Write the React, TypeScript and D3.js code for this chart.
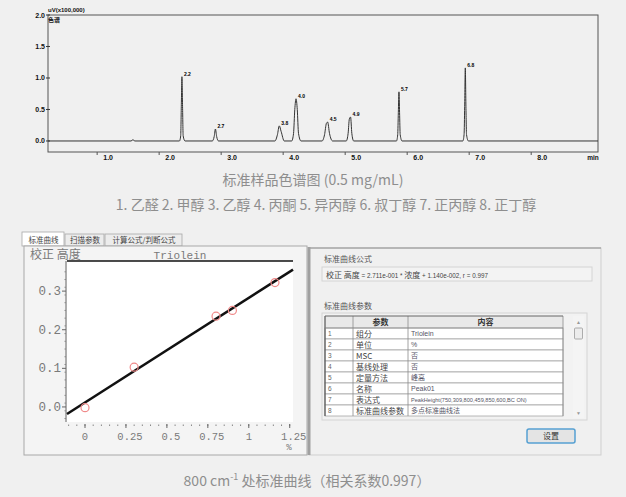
import React from "react";
import * as d3 from "d3";

// ---------- Chromatogram data ----------
const chromXTicks = [1, 2, 3, 4, 5, 6, 7, 8];
const chromYTicks = [0, 0.5, 1.0, 1.5, 2.0];
// trace points [time (min), signal (x100,000 uV)]
const chromTrace: [number, number][] = [
  [0.03, 0], [1.37, 0], [1.40, 0.02], [1.43, 0],
  [2.15, 0], [2.17, 0.08], [2.18, 0.55], [2.19, 1.02], [2.20, 0.55], [2.21, 0.08], [2.24, 0],
  [2.68, 0], [2.71, 0.07], [2.73, 0.19], [2.75, 0.07], [2.78, 0],
  [3.69, 0], [3.73, 0.1], [3.76, 0.24], [3.79, 0.15], [3.84, 0],
  [3.96, 0], [3.99, 0.12], [4.01, 0.5], [4.03, 0.67], [4.05, 0.5], [4.07, 0.12], [4.11, 0],
  [4.45, 0], [4.49, 0.1], [4.52, 0.28], [4.54, 0.30], [4.57, 0.12], [4.62, 0],
  [4.84, 0], [4.87, 0.12], [4.89, 0.35], [4.91, 0.38], [4.93, 0.12], [4.96, 0],
  [5.65, 0], [5.67, 0.1], [5.68, 0.45], [5.69, 0.78], [5.70, 0.45], [5.71, 0.1], [5.74, 0],
  [6.72, 0], [6.74, 0.1], [6.75, 0.55], [6.76, 1.16], [6.77, 0.55], [6.78, 0.1], [6.81, 0],
  [8.9, 0],
];
const peakTimes = [2.19, 2.73, 3.76, 4.03, 4.54, 4.91, 5.69, 6.76];
const peakHeights = [1.02, 0.19, 0.24, 0.67, 0.30, 0.38, 0.78, 1.16];

// ---------- Calibration data ----------
const calXTicks = [0, 0.25, 0.5, 0.75, 1, 1.25];
const calXTickLabels = ["0", "0.25", "0.5", "0.75", "1", "1.25"];
const calYTicks = [0, 0.1, 0.2, 0.3];
const calYTickLabels = ["0.0", "0.1", "0.2", "0.3"];
const calConc = [0, 0.3, 0.8, 0.9, 1.16];
const calHeight = [-0.002, 0.103, 0.235, 0.25, 0.322];
const fitSlope = 0.2711;
const fitIntercept = 0.0114;

// ---------- Table data ----------
const tableParams = ["组分", "单位", "MSC", "基线处理", "定量方法", "名称", "表达式", "标准曲线参数"];
const tableValues = ["Triolein", "%", "否", "否", "峰高", "Peak01", "PeakHeight(750,309,800,459,850,600,BC ON)", "多点标准曲线法"];
const tabLabels = ["标准曲线", "扫描参数", "计算公式/判断公式"];

const CJK = "'Noto Sans CJK SC', 'Noto Sans', sans-serif";
const SANS = "'Liberation Sans', Arial, sans-serif";
const MONO = "'Liberation Mono', 'DejaVu Sans Mono', monospace";

export default function App() {
  // chromatogram scales
  const xC = d3.scaleLinear().domain([0.03, 8.9]).range([48, 598]);
  const yC = d3.scaleLinear().domain([-0.175, 2.0]).range([152, 15]);
  const tracePath = d3
    .line<[number, number]>()
    .x((d) => xC(d[0]))
    .y((d) => yC(d[1]))
    .curve(d3.curveMonotoneX)(chromTrace) as string;

  // calibration scales
  const xK = d3.scaleLinear().domain([-0.11, 1.27]).range([67, 293]);
  const yK = d3.scaleLinear().domain([-0.039, 0.378]).range([422, 261]);
  const fitPath = d3
    .line<number>()
    .x((c) => xK(c))
    .y((c) => yK(fitSlope * c + fitIntercept))(xK.domain()) as string;
  const minorX = d3.range(-0.1, 1.27, 0.05);
  const minorY = d3.range(-0.03, 0.37, 0.02);

  // table geometry
  const colX = [325, 353, 408, 563];
  const headTop = 316;
  const headH = 12;
  const rowH = 11;
  const tabX = [22, 65, 105, 183];

  return (
    <svg
      width={626}
      height={497}
      style={{ position: "absolute", left: 0, top: 0, background: "#f0f0f0" }}
    >
      <rect x={0} y={0} width={626} height={497} fill="#f0f0f0" />

      {/* ================= Chromatogram ================= */}
      <rect x={48} y={15} width={550} height={137} fill="none" stroke="#555" strokeWidth={1} />
      {chromYTicks.map((v) => (
        <g key={"cy" + v}>
          <line x1={46} x2={50} y1={yC(v)} y2={yC(v)} stroke="#333" />
          <text x={45} y={yC(v) + 2.5} fontSize={7} fontWeight="bold" fontFamily={SANS} textAnchor="end" fill="#111">
            {v.toFixed(1)}
          </text>
        </g>
      ))}
      {chromXTicks.map((v) => (
        <g key={"cx" + v}>
          <line x1={xC(v) - 11} x2={xC(v) - 11} y1={152} y2={155} stroke="#555" />
          <text x={xC(v)} y={160} fontSize={7} fontWeight="bold" fontFamily={SANS} textAnchor="middle" fill="#111">
            {v.toFixed(1)}
          </text>
        </g>
      ))}
      <text x={593} y={160} fontSize={6.5} fontWeight="bold" fontFamily={SANS} textAnchor="middle" fill="#111">
        min
      </text>
      <text x={48} y={12} fontSize={6} fontWeight="bold" fontFamily={SANS} fill="#111">
        uV(x100,000)
      </text>
      <text x={48} y={21.5} fontSize={6} fontWeight="bold" fontFamily={CJK} fill="#111">
        色谱
      </text>
      <path d={tracePath} fill="none" stroke="#333" strokeWidth={1} />
      {peakTimes.map((t, i) => (
        <text
          key={"pk" + i}
          x={xC(t) + 2}
          y={yC(peakHeights[i]) - 1}
          fontSize={5}
          fontWeight="bold"
          fontFamily={SANS}
          fill="#000"
        >
          {t.toFixed(1)}
        </text>
      ))}

      {/* captions */}
      <text x={313} y={185} fontSize={14} fontFamily={CJK} textAnchor="middle" fill="#8e8e8e">
        标准样品色谱图 (0.5 mg/mL)
      </text>
      <text x={326} y={210} fontSize={14} fontFamily={CJK} textAnchor="middle" fill="#8e8e8e">
        1. 乙醛 2. 甲醇 3. 乙醇 4. 丙酮 5. 异丙醇 6. 叔丁醇 7. 正丙醇 8. 正丁醇
      </text>

      {/* ================= Software screenshot ================= */}
      {tabLabels.map((lab, i) => (
        <g key={"tab" + i}>
          <rect
            x={tabX[i]}
            y={i === 0 ? 232 : 234}
            width={tabX[i + 1] - tabX[i] - 1}
            height={i === 0 ? 14 : 12}
            fill={i === 0 ? "#ffffff" : "#ececec"}
            stroke="#a8a8a8"
            strokeWidth={0.8}
          />
          <text
            x={(tabX[i] + tabX[i + 1]) / 2}
            y={242.5}
            fontSize={7.5}
            fontFamily={CJK}
            textAnchor="middle"
            fill="#444"
          >
            {lab}
          </text>
        </g>
      ))}
      <rect x={24} y={246} width={283} height={209} fill="#f4f4f4" stroke="#a8a8a8" strokeWidth={1} />
      <text x={30} y={259} fontSize={12} fontFamily={CJK} fill="#7a7a7a">
        校正 高度
      </text>
      <text x={180} y={259} fontSize={11} fontFamily={MONO} textAnchor="middle" fill="#7a7a7a">
        Triolein
      </text>
      <rect x={67} y={261} width={226} height={161} fill="#ffffff" />
      <line x1={67} x2={293} y1={261} y2={261} stroke="#111" strokeWidth={1.5} />
      <line x1={66} x2={66} y1={261} y2={422} stroke="#666" strokeWidth={1} />
      {minorY.map((v, i) => (
        <line key={"my" + i} x1={64.5} x2={66} y1={yK(v)} y2={yK(v)} stroke="#888" />
      ))}
      {calYTicks.map((v, i) => (
        <g key={"ky" + v}>
          <line x1={62} x2={66} y1={yK(v)} y2={yK(v)} stroke="#666" />
          <text x={61} y={yK(v) + 4} fontSize={12.5} fontFamily={MONO} textAnchor="end" fill="#7a7a7a">
            {calYTickLabels[i]}
          </text>
        </g>
      ))}
      {minorX.map((v, i) => (
        <line key={"mx" + i} x1={xK(v)} x2={xK(v)} y1={424.5} y2={426} stroke="#888" />
      ))}
      {calXTicks.map((v, i) => (
        <g key={"kx" + v}>
          <line x1={xK(v)} x2={xK(v)} y1={424} y2={428} stroke="#666" />
          <text
            x={xK(v) + (calXTickLabels[i].length > 1 ? 4 : 0)}
            y={440}
            fontSize={10.5}
            fontFamily={MONO}
            textAnchor="middle"
            fill="#7a7a7a"
          >
            {calXTickLabels[i]}
          </text>
        </g>
      ))}
      <text x={289} y={450} fontSize={9} fontFamily={MONO} textAnchor="middle" fill="#7a7a7a">
        %
      </text>
      <path d={fitPath} fill="none" stroke="#111" strokeWidth={2.5} />
      {calConc.map((c, i) => (
        <circle key={"pt" + i} cx={xK(c)} cy={yK(calHeight[i])} r={4} fill="none" stroke="#f08a8a" strokeWidth={1.2} />
      ))}

      {/* right pane */}
      <rect x={309} y={248} width={292} height={207} fill="#f0f0f0" stroke="#cfcfcf" strokeWidth={1} />
      <line x1={309} x2={601} y1={248} y2={248} stroke="#a8a8a8" strokeWidth={1.5} />
      <rect x={307.5} y={247} width={3} height={208} fill="#a0a0a0" />
      <text x={324} y={262} fontSize={8} fontFamily={CJK} fill="#555">
        标准曲线公式
      </text>
      <rect x={322} y={267} width={270} height={14} fill="#f3f3f3" stroke="#d4d4d4" strokeWidth={1} />
      <text x={326} y={277.5} fontFamily={CJK} fill="#444">
        <tspan fontSize={8}>校正 高度</tspan>
        <tspan fontSize={6.3} fontFamily={SANS}> = 2.711e-001 * </tspan>
        <tspan fontSize={8}>浓度</tspan>
        <tspan fontSize={6.3} fontFamily={SANS}> + 1.140e-002, r = 0.997</tspan>
      </text>
      <text x={324} y={309} fontSize={8} fontFamily={CJK} fill="#555">
        标准曲线参数
      </text>
      <rect x={322} y={313} width={265} height={107} fill="#f2f2f2" stroke="#d4d4d4" strokeWidth={1} />
      <rect x={colX[0]} y={headTop} width={colX[3] - colX[0]} height={headH} fill="#e9e9e9" />
      {tableParams.map((p, i) => {
        const y0 = headTop + headH + i * rowH;
        return (
          <g key={"row" + i}>
            <rect x={colX[0]} y={y0} width={colX[3] - colX[0]} height={rowH} fill="#ffffff" stroke="#9a9a9a" strokeWidth={0.7} />
            <text x={colX[0] + 3} y={y0 + 8} fontSize={6.5} fontFamily={SANS} fill="#666">
              {i + 1}
            </text>
            <text x={colX[1] + 3} y={y0 + 8.5} fontSize={8} fontFamily={CJK} fill="#444">
              {p}
            </text>
            <text x={colX[2] + 3} y={y0 + 8} fontSize={tableValues[i].length > 20 ? 5.6 : 7} fontFamily={/[\u4e00-\u9fff]/.test(tableValues[i]) ? CJK : SANS} fill="#556">
              {tableValues[i]}
            </text>
          </g>
        );
      })}
      {colX.map((cx, i) => (
        <line key={"cl" + i} x1={cx} x2={cx} y1={headTop} y2={headTop + headH + tableParams.length * rowH} stroke={i === 0 ? "#555" : "#8a8a8a"} strokeWidth={i === 0 ? 1.2 : 0.8} />
      ))}
      <line x1={colX[0]} x2={colX[3]} y1={headTop} y2={headTop} stroke="#666" strokeWidth={1} />
      <line x1={colX[0]} x2={colX[3]} y1={headTop + headH} y2={headTop + headH} stroke="#888" strokeWidth={0.8} />
      <text x={(colX[1] + colX[2]) / 2} y={headTop + 9} fontSize={8} fontWeight="bold" fontFamily={CJK} textAnchor="middle" fill="#333">
        参数
      </text>
      <text x={(colX[2] + colX[3]) / 2} y={headTop + 9} fontSize={8} fontWeight="bold" fontFamily={CJK} textAnchor="middle" fill="#333">
        内容
      </text>
      <rect x={573} y={316} width={11} height={102} fill="#f4f4f4" />
      <text x={578.5} y={324} fontSize={5} fontFamily={SANS} textAnchor="middle" fill="#999">▲</text>
      <rect x={574.5} y={328} width={8} height={11} rx={1} fill="#ececec" stroke="#9a9a9a" strokeWidth={0.8} />
      <text x={578.5} y={415} fontSize={5} fontFamily={SANS} textAnchor="middle" fill="#999">▼</text>
      <rect x={527} y={429} width={48} height={14} rx={2} fill="#e4e4e4" stroke="#55a0d2" strokeWidth={1.5} />
      <text x={551} y={439} fontSize={8} fontFamily={CJK} textAnchor="middle" fill="#333">
        设置
      </text>

      {/* bottom caption */}
      <text x={307} y={486} fontSize={14} fontFamily={CJK} textAnchor="middle" fill="#8e8e8e">
        800 cm
        <tspan fontSize={9} dy={-6}>-1</tspan>
        <tspan dy={6}> 处标准曲线（相关系数0.997）</tspan>
      </text>
    </svg>
  );
}
